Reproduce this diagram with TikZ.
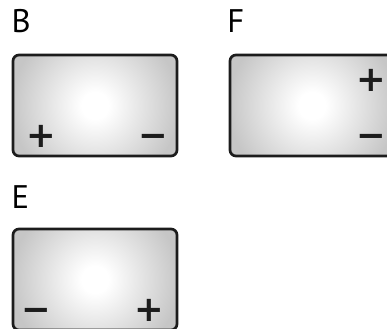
\documentclass[tikz,border=0pt]{standalone}
\usepackage{fontspec}
\setmainfont{PT Sans}
\newfontfamily\signfont{DejaVu Sans}
\definecolor{edgegray}{RGB}{198,198,198}
\definecolor{rimblack}{RGB}{28,28,28}
\pgfdeclareradialshading{glow}{\pgfpoint{0bp}{0bp}}{color(0bp)=(white); color(4bp)=(white); color(25bp)=(edgegray); color(50bp)=(edgegray)}
\tikzset{every picture/.style={line width=0.75pt}}
\tikzset{
  cell/.style={draw=rimblack, line width=2pt, rounded corners=4.5pt,
    minimum width=123pt, minimum height=75.75pt, inner sep=0pt, fill=edgegray,
    path picture={\shade[shading=glow] (path picture bounding box.center) circle (63pt);}},
  letter/.style={anchor=base west, inner sep=0pt, font=\fontsize{24.5}{24.5}\selectfont},
  sign/.style={anchor=base, inner sep=0pt, text=rimblack, font=\signfont\bfseries\fontsize{26.5}{26.5}\selectfont}
}

\begin{document}
\begin{tikzpicture}[x=0.75pt,y=0.75pt,yscale=-1,xscale=1]
\useasboundingbox (0,0) rectangle (387,329);
\clip (0,0) rectangle (387,329);

% Boxes
\node [cell] (boxB) at (95,105.5) {};
\node [cell] (boxF) at (312,105.5) {};
\node [cell] (boxE) at (95,279.5) {};

% Text Node
\node [letter] (labB) at (11,32.7) {B};
% Text Node
\node [letter] (labF) at (227,32.7) {F};
% Text Node
\node [letter] (labE) at (11,208) {E};

% Signs (base a little under the glyph centre)
\node [sign] (plusB) at (41.3,147.5) {+};
\node [sign] (minusB) at (153.5,147) {−};
\node [sign] (plusF) at (371.5,91.5) {+};
\node [sign] (minusF) at (371.5,147.5) {−};
\node [sign] (minusE) at (36.5,321.5) {−};
\node [sign] (plusE) at (149.5,321.5) {+};
\end{tikzpicture}
\end{document}
